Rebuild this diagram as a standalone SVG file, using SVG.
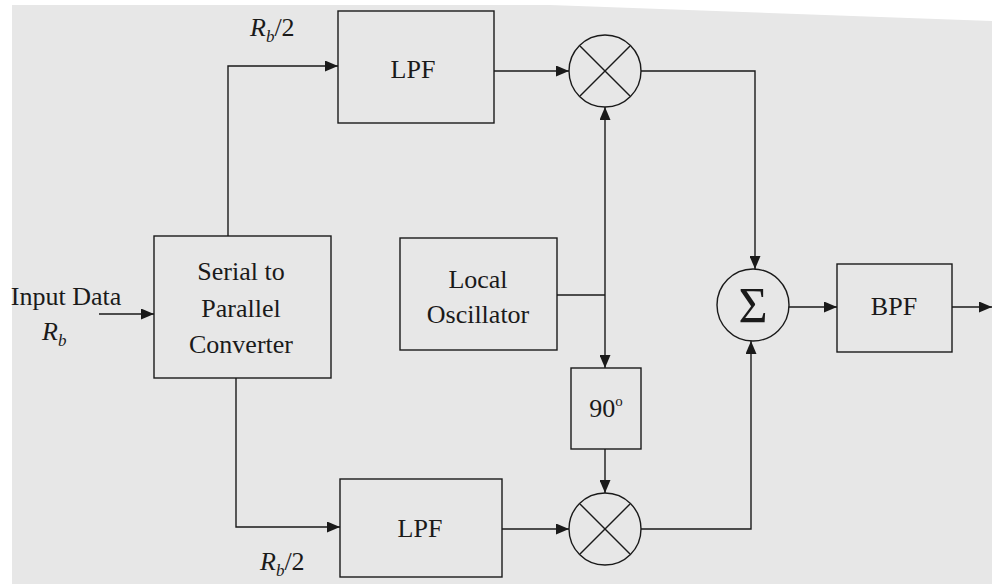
<svg xmlns="http://www.w3.org/2000/svg" width="992" height="584" viewBox="0 0 992 584">
<defs>
<marker id="arr" viewBox="0 0 13 11" refX="13" refY="5.5" markerWidth="13" markerHeight="11" markerUnits="userSpaceOnUse" orient="auto">
<path d="M0,0 L13,5.5 L0,11 Z" fill="#1a1a1a"/>
</marker>
<style>
.box{fill:none;stroke:#1a1a1a;stroke-width:1.4}
.ln{fill:none;stroke:#1a1a1a;stroke-width:1.4}
.ar{fill:none;stroke:#1a1a1a;stroke-width:1.4;marker-end:url(#arr)}
.t{font-family:"Liberation Serif","Times New Roman",serif;font-size:26px;fill:#1a1a1a;text-anchor:middle}
.i{font-family:"Liberation Serif","Times New Roman",serif;font-size:26px;fill:#1a1a1a;font-style:italic}
.sig{font-size:50px}
</style>
</defs>
<rect x="0" y="0" width="992" height="584" fill="#ffffff"/>
<polygon points="12,5 550,5 992,21 992,584 12,584" fill="#e7e7e7"/>

<g id="serial-to-parallel">
<rect class="box" x="154" y="236" width="177" height="142"/>
<text class="t" x="241" y="280">Serial to</text>
<text class="t" x="241" y="317">Parallel</text>
<text class="t" x="241" y="353">Converter</text>
</g>
<g id="lpf-top">
<rect class="box" x="338" y="11" width="156" height="112"/>
<text class="t" x="413" y="78">LPF</text>
</g>
<g id="lpf-bottom">
<rect class="box" x="340" y="479" width="162" height="98"/>
<text class="t" x="420" y="537">LPF</text>
</g>
<g id="local-oscillator">
<rect class="box" x="400" y="238" width="157" height="112"/>
<text class="t" x="478" y="288">Local</text>
<text class="t" x="478" y="323">Oscillator</text>
</g>
<g id="phase-shift">
<rect class="box" x="571" y="368" width="70" height="81"/>
<text class="t" x="606" y="417">90<tspan font-size="15" dy="-11">o</tspan></text>
</g>
<g id="mixer-top">
<circle class="box" cx="605" cy="71" r="36"/>
<line class="ln" x1="580" y1="46" x2="630" y2="96"/>
<line class="ln" x1="630" y1="46" x2="580" y2="96"/>
</g>
<g id="mixer-bottom">
<circle class="box" cx="605" cy="529" r="36"/>
<line class="ln" x1="580" y1="504" x2="630" y2="554"/>
<line class="ln" x1="630" y1="504" x2="580" y2="554"/>
</g>
<g id="summer">
<circle class="box" cx="753" cy="305" r="36"/>
<text class="t sig" x="753" y="322">Σ</text>
</g>
<g id="bpf">
<rect class="box" x="837" y="264" width="115" height="88"/>
<text class="t" x="894" y="315">BPF</text>
</g>

<g id="labels">
<text class="t" x="66" y="305">Input Data</text>
<text class="i" x="42" y="340">R<tspan font-size="17" dy="6">b</tspan></text>
<text class="i" x="250" y="36">R<tspan font-size="17" dy="6">b</tspan><tspan font-style="normal" dy="-6">/2</tspan></text>
<text class="i" x="260" y="570">R<tspan font-size="17" dy="6">b</tspan><tspan font-style="normal" dy="-6">/2</tspan></text>
</g>

<g id="connectors">
<path class="ar" d="M99,314 H154"/>
<path class="ar" d="M228,236 V66 H338"/>
<path class="ar" d="M236,378 V527 H340"/>
<path class="ar" d="M494,71 H569"/>
<path class="ar" d="M502,529 H569"/>
<path class="ln" d="M557,295 H605"/>
<path class="ar" d="M605,295 V107"/>
<path class="ar" d="M605,295 V368"/>
<path class="ar" d="M605,449 V493"/>
<path class="ar" d="M641,71 H755 V269"/>
<path class="ar" d="M641,529 H751 V341"/>
<path class="ar" d="M789,307 H837"/>
<path class="ar" d="M952,307 H992"/>
</g>
</svg>
